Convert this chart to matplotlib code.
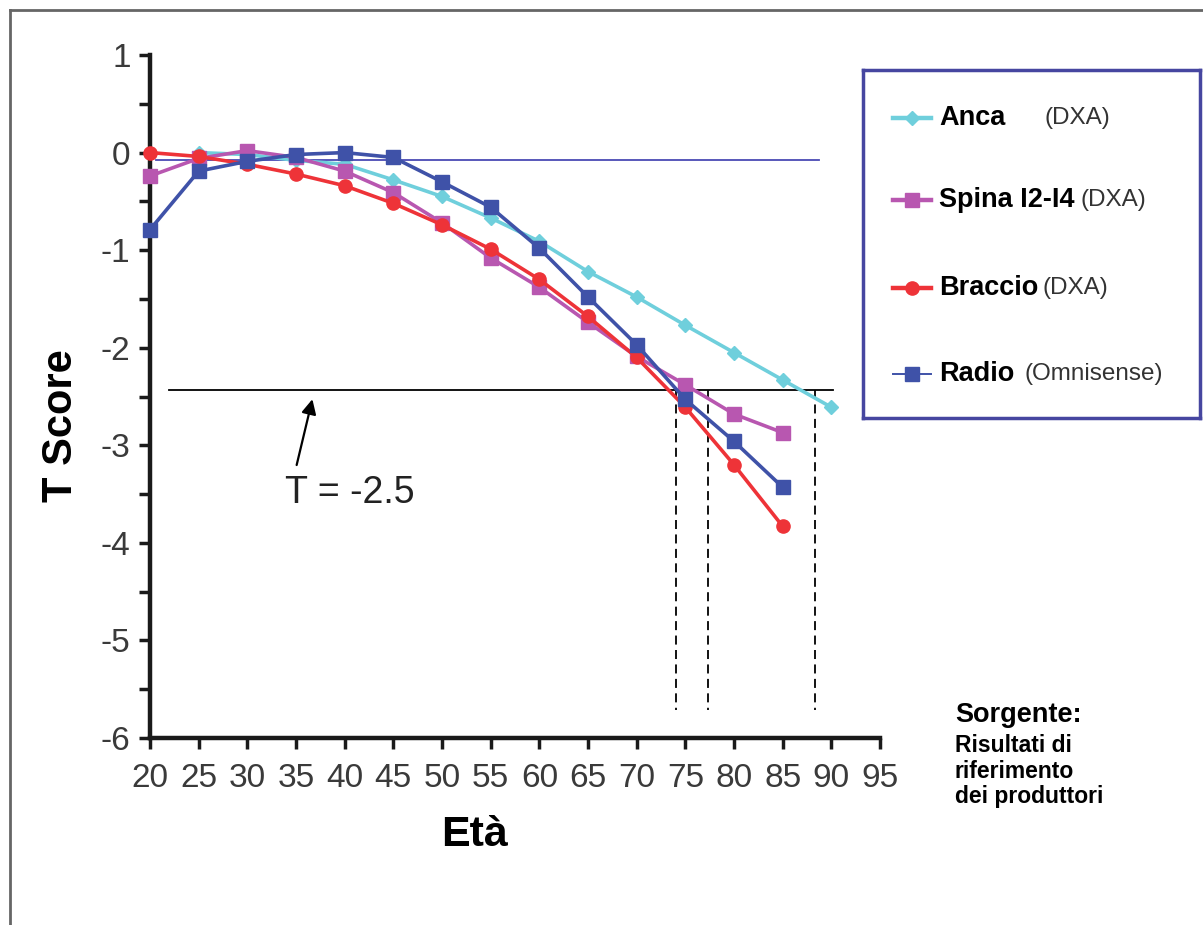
import numpy as np
import matplotlib.pyplot as plt
from matplotlib.lines import Line2D

plt.rcParams['font.family'] = ['Liberation Sans', 'DejaVu Sans']
plt.rcParams['axes.unicode_minus'] = False

# data
eta = [20, 25, 30, 35, 40, 45, 50, 55, 60, 65, 70, 75, 80, 85, 90]
anca = [np.nan, 0.0, -0.02, -0.08, -0.12, -0.28, -0.45, -0.67, -0.91, -1.22, -1.48, -1.77, -2.05, -2.33, -2.61]
spina = [-0.24, -0.06, 0.02, -0.05, -0.19, -0.41, -0.72, -1.08, -1.38, -1.74, -2.09, -2.38, -2.68, -2.87, np.nan]
braccio = [0.0, -0.04, -0.12, -0.22, -0.34, -0.52, -0.74, -0.99, -1.30, -1.68, -2.10, -2.61, -3.20, -3.83, np.nan]
radio = [-0.79, -0.19, -0.09, -0.02, 0.0, -0.05, -0.30, -0.56, -0.98, -1.48, -1.97, -2.53, -2.96, -3.43, np.nan]

series_names = ['Anca', 'Spina I2-I4', 'Braccio', 'Radio']
series_tags = ['(DXA)', '(DXA)', '(DXA)', '(Omnisense)']
colors = ['#6fcfdc', '#b857b0', '#ee3338', '#3f52a8']
markers = ['D', 's', 'o', 's']
msizes = [7.5, 9.5, 9.5, 10.5]

soglia = -2.43           # the T = -2.5 line as drawn
linea_zero = -0.08
eta_incrocio = [74.0, 77.3, 88.3]
xticks = list(range(20, 100, 5))
yticks = list(range(-6, 2))

fig = plt.figure(figsize=(12.03, 9.25), dpi=100)
ax = fig.add_axes([150/1203, 1-738/925, 730/1203, 683/925])

all_series = [anca, spina, braccio, radio]
for vals, c, m, ms in zip(all_series, colors, markers, msizes):
    ax.plot(eta, vals, color=c, marker=m, markersize=ms, lw=2.6, clip_on=False, zorder=3)

ax.plot([20.6, 88.7], [linea_zero, linea_zero], color='#4a4ab4', lw=1.3, zorder=2)
ax.plot([22, 90.2], [soglia, soglia], color='black', lw=1.3, zorder=2)
for xv in eta_incrocio:
    ax.plot([xv, xv], [soglia, -5.71], color='black', lw=1.3, ls=(0, (5, 3)), zorder=2)

ax.annotate('', xy=(36.75, -2.5), xytext=(35.0, -3.23),
            arrowprops=dict(arrowstyle='-|>', color='black', lw=1.6, mutation_scale=22))
ax.text(33.9, -3.59, 'T = -2.5', fontsize=27, va='baseline', ha='left', color='#222222')

ax.set_xlim(20, 95)
ax.set_ylim(-6, 1)
ax.set_xticks(xticks)
ax.set_yticks(yticks)
ax.set_yticks(np.arange(-6, 1.01, 0.5), minor=True)
for s in ['top', 'right']:
    ax.spines[s].set_visible(False)
for s in ['left', 'bottom']:
    ax.spines[s].set_linewidth(3.2)
    ax.spines[s].set_color('#1a1a1a')
ax.tick_params(axis='both', which='both', width=2.5, length=8, color='#1a1a1a',
               labelsize=24, labelcolor='#3a3a3a')
ax.tick_params(axis='x', pad=10)
ax.tick_params(axis='y', pad=6)

ax.set_ylabel('T Score', fontsize=30, fontweight='bold')
ax.yaxis.set_label_coords(-0.094, 0.458)
ax.set_xlabel('Età', fontsize=31, fontweight='bold')
ax.xaxis.set_label_coords(0.445, -0.113)

# legend box drawn by hand
lg = fig.add_axes([863/1203, 1-418/925, 337/1203, 348/925])
lg.set_xlim(0, 337)
lg.set_ylim(348, 0)
lg.set_xticks([])
lg.set_yticks([])
for s in lg.spines.values():
    s.set_color('#4646a0')
    s.set_linewidth(2.5)
rows_y = [48, 130, 218, 304]
tag_x = [182, 217, 180, 162]
for i in range(4):
    lw_h = 1.4 if i == 3 else 3.2
    lg.plot([30, 68], [rows_y[i], rows_y[i]], color=colors[i], lw=lw_h)
    lg.plot([49], [rows_y[i]], color=colors[i], marker=markers[i], markersize=msizes[i])
    lg.text(76, rows_y[i], series_names[i], fontsize=19.5, fontweight='bold', va='center', ha='left')
    lg.text(tag_x[i], rows_y[i], series_tags[i], fontsize=17.5, va='center', ha='left', color='#333333')

fig.text(955/1203, 1-715/925, 'Sorgente:', fontsize=19.5, fontweight='bold', va='center')
fonte = ['Risultati di', 'riferimento', 'dei produttori']
for i, riga in enumerate(fonte):
    fig.text(955/1203, 1-(745 + 26*i)/925, riga, fontsize=16.5, fontweight='bold', va='center')

# frame around the figure (left and top edges)
fig.add_artist(Line2D([10/1203, 10/1203], [0, 1-10/925], color='#666666', lw=2))
fig.add_artist(Line2D([10/1203, 1], [1-10/925, 1-10/925], color='#666666', lw=2))

fig.savefig('out.png', dpi=100)
